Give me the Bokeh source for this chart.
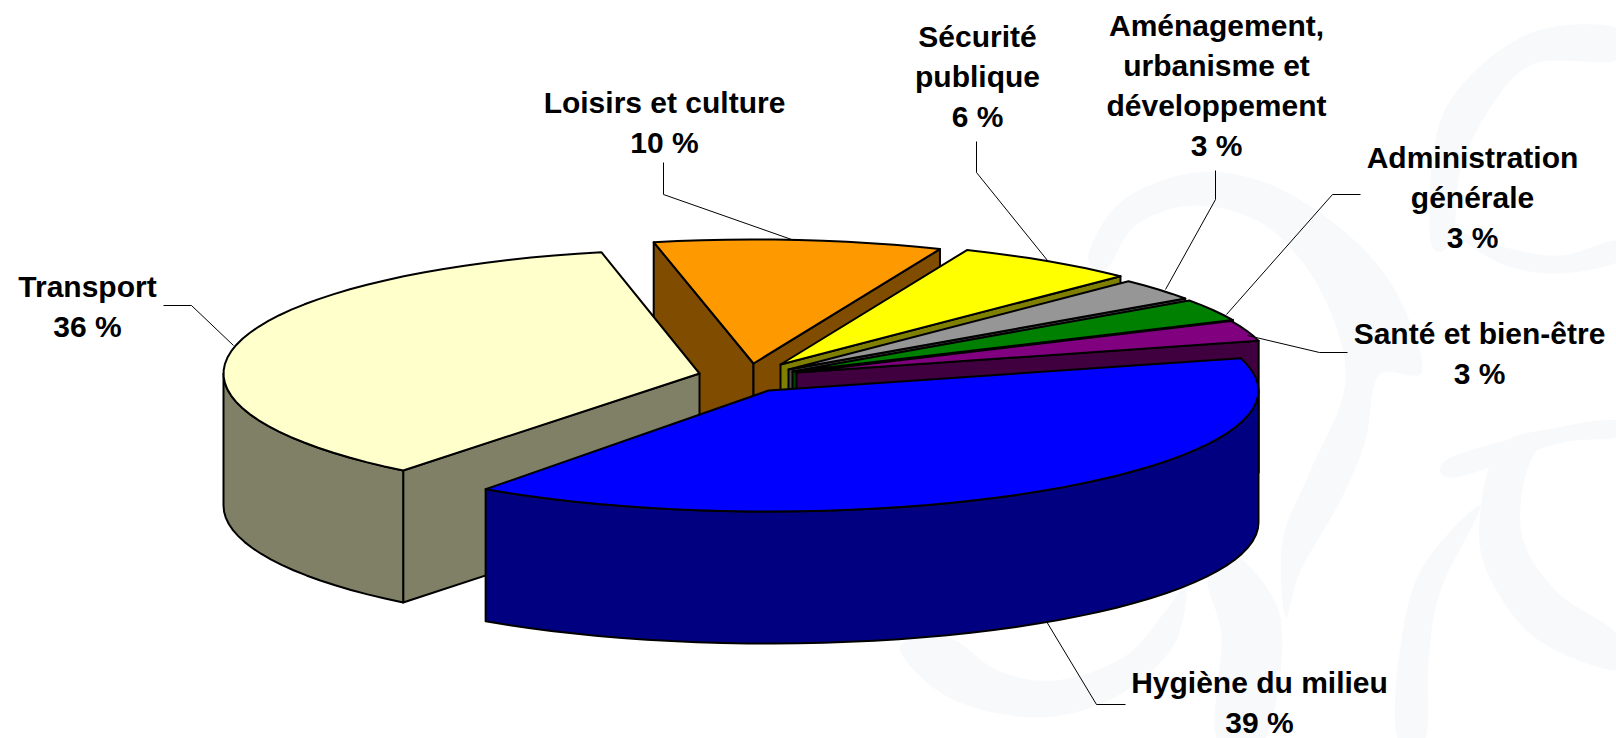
import math
from bokeh.plotting import figure
from bokeh.models import Range1d
from bokeh.core.properties import value
from bokeh.embed import file_html
from bokeh.resources import INLINE

# ---- chart data (shares) ----
categories = ["Hygiène du milieu", "Transport", "Loisirs et culture", "Sécurité publique",
              "Aménagement, urbanisme et développement", "Administration générale", "Santé et bien-être"]
shares = [39.1, 36.0, 9.6, 6.1, 2.9, 2.9, 2.7]
label_lines = [["Hygiène du milieu"], ["Transport"], ["Loisirs et culture"], ["Sécurité", "publique"],
               ["Aménagement,", "urbanisme et", "développement"], ["Administration", "générale"],
               ["Santé et bien-être"]]

# ---- styles ----
top_colors = ["#0000FF", "#FFFFCC", "#FF9900", "#FFFF00", "#969696", "#008000", "#800080"]
side_colors = ["#000080", "#808066", "#804D00", "#808000", "#4C4C4C", "#004000", "#400040"]

# ---- layout, in page pixels ----
BLUE_START = -15.5
REST_START = 128.5
DEPTH = 132
apex = [(768, 390), (699, 373), (753, 363), (780, 364), (788, 369), (792, 371), (796, 372)]
radii = [(490, 121), (476, 124), (484, 124), (484, 124), (484, 124), (484, 124), (478, 124)]
label_x = [1259, 87, 664, 977, 1216, 1472, 1479]
label_y = [682, 286, 102, 36, 25, 157, 333]
LINE_H = 40
leaders = [[(1125, 704), (1096, 704), (1046, 621)],
           [(163, 305), (191, 305), (233, 345)],
           [(663, 162), (663, 194), (794, 240)],
           [(976, 141), (976, 172), (1047, 260)],
           [(1215, 170), (1215, 199), (1165, 289)],
           [(1360, 194), (1332, 194), (1226, 314)],
           [(1347, 352), (1319, 352), (1247, 335)]]
draw_order = [2, 1, 3, 4, 5, 6, 0]

# faint watermark behind the chart
WM = "#F8F9FB"
watermark = [
    [(1616, 27), (1537, 30), (1472, 73), (1436, 133), (1430, 240), (1452, 240), (1460, 170), (1490, 107), (1534, 63), (1616, 60)],
    [(1452, 230), (1500, 263), (1555, 273), (1616, 262), (1616, 240), (1560, 255), (1505, 247)],
    [(1088, 253), (1122, 200), (1194, 172), (1267, 183), (1339, 227), (1393, 287), (1422, 370), (1378, 375),
     (1365, 440), (1340, 500), (1300, 570), (1285, 617), (1282, 540), (1310, 470), (1345, 380), (1320, 290),
     (1265, 225), (1194, 205), (1135, 225), (1105, 270)],
    [(899, 647), (948, 697), (1036, 717), (1114, 697), (1172, 647), (1187, 587), (1180, 590), (1163, 613),
     (1123, 657), (1055, 680), (997, 670), (948, 637)],
    [(1397, 738), (1398, 660), (1420, 570), (1480, 505), (1440, 590), (1428, 660), (1425, 738)],
    [(1480, 510), (1486, 570), (1534, 637), (1616, 670), (1616, 633), (1555, 590), (1520, 527), (1540, 445),
     (1616, 425), (1616, 420), (1558, 427), (1500, 445)],
    [(1450, 457), (1558, 427), (1616, 420), (1616, 437), (1558, 443), (1455, 477)],
    [(1207, 580), (1221, 637), (1216, 738), (1265, 738), (1280, 617), (1226, 547)],
]


def smooth(shape, steps=8):
    """Closed Catmull-Rom outline through the given points."""
    out = []
    n = len(shape)
    for i in range(n):
        p0, p1, p2, p3 = shape[i - 1], shape[i], shape[(i + 1) % n], shape[(i + 2) % n]
        for k in range(steps):
            t = k / steps
            out.append(tuple(0.5 * (2 * p1[d] + (p2[d] - p0[d]) * t
                                    + (2 * p0[d] - 5 * p1[d] + 4 * p2[d] - p3[d]) * t * t
                                    + (3 * p1[d] - p0[d] - 3 * p2[d] + p3[d]) * t ** 3) for d in (0, 1)))
    return out


p = figure(width=1616, height=738, output_backend="svg", toolbar_location=None,
           x_range=Range1d(0, 1616), y_range=Range1d(738, 0), min_border=0,
           background_fill_color="white", border_fill_color="white")
p.axis.visible = False
p.grid.visible = False
p.outline_line_color = None

for shape in watermark:
    s = smooth(shape)
    p.patch([q[0] for q in s], [q[1] for q in s], fill_color=WM, line_color=None)

# angular extents from the shares
spans = [(BLUE_START, BLUE_START + shares[0] * 3.6)]
a = REST_START
for s in shares[1:]:
    spans.append((a, a + s * 3.6))
    a += s * 3.6


def arc(i, a0, a1, dy=0.0):
    n = max(2, int(abs(a1 - a0) / 3) + 1)
    cx, cy = apex[i]
    rx, ry = radii[i]
    out = []
    for k in range(n + 1):
        t = math.radians(a0 + (a1 - a0) * k / n)
        out.append((cx + rx * math.cos(t), cy + ry * math.sin(t) + dy))
    return out


def poly(points, fill):
    p.patch([q[0] for q in points], [q[1] for q in points], fill_color=fill,
            line_color="black", line_width=2, line_join="round")


for i in draw_order:
    a0, a1 = spans[i]
    cx, cy = apex[i]
    side = side_colors[i]
    # radial cut faces that turn towards the viewer
    if -math.cos(math.radians(a0)) > 0:
        e = arc(i, a0, a0 + 0.01)[0]
        poly([(cx, cy), e, (e[0], e[1] + DEPTH), (cx, cy + DEPTH)], side)
    if math.cos(math.radians(a1)) > 0:
        e = arc(i, a1, a1 + 0.01)[0]
        poly([(cx, cy), e, (e[0], e[1] + DEPTH), (cx, cy + DEPTH)], side)
    # outer wall: the part of the rim in front
    for lo, hi in [(max(a0, 0), min(a1, 180)), (max(a0, 360), min(a1, 540))]:
        if hi > lo:
            top = arc(i, lo, hi)
            bot = arc(i, lo, hi, DEPTH)
            poly(top + bot[::-1], side)
    # top face
    poly([(cx, cy)] + arc(i, a0, a1), top_colors[i])

# leaders
for pts in leaders:
    p.line([q[0] for q in pts], [q[1] for q in pts], line_color="black", line_width=1)

# labels
for i, lines in enumerate(label_lines):
    all_lines = lines + [f"{round(shares[i])} %"]
    for k, t in enumerate(all_lines):
        p.text([label_x[i]], [label_y[i] + k * LINE_H], text=[t], text_align="center",
               text_baseline="middle", text_color="black", text_font=value("Liberation Sans"),
               text_font_size="30px", text_font_style="bold")

open("out.html", "w").write(file_html(p, INLINE))
